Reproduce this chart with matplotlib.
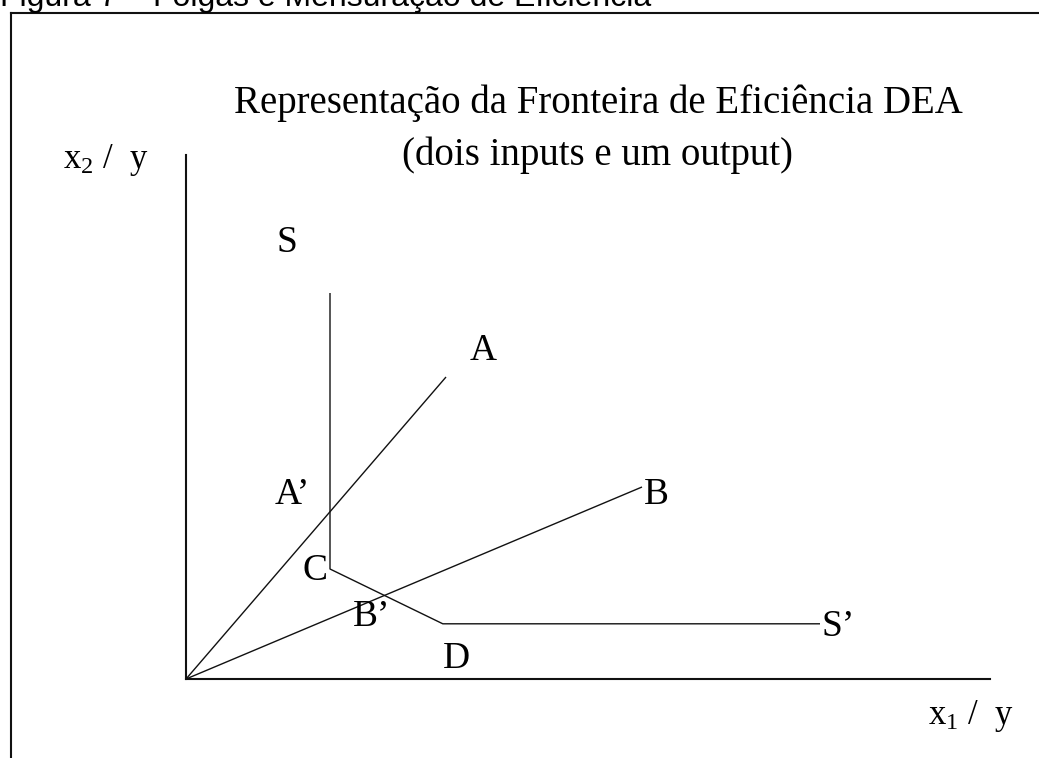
import matplotlib.pyplot as plt
from matplotlib.lines import Line2D

plt.rcParams['mathtext.fontset'] = 'custom'
plt.rcParams['mathtext.rm'] = 'Liberation Serif'

W, H = 1039, 758

# DEA frontier, two inputs per unit of output
frontier_x = [3.6, 3.6, 6.42, 15.85]   # S, C, D, S'
frontier_y = [9.65, 2.75, 1.38, 1.38]
unit_a = (6.5, 7.55)
unit_b = (11.4, 4.8)

labels = ['S', 'A', "A\u2019", 'B', 'C', "B\u2019", 'D', "S\u2019"]
label_x = [2.52, 7.42, 2.65, 11.75, 3.22, 4.65, 6.75, 16.3]
label_y = [10.9, 8.2, 4.6, 4.6, 2.7, 1.55, 0.5, 1.3]

fig = plt.figure(figsize=(W / 100, H / 100), dpi=100)

# axes placed in pixels: origin at (186, 679), top at 155, right end at 990
x0, y0, x1, y1 = 186, 679, 990, 155
ax = fig.add_axes([x0 / W, 1 - y0 / H, (x1 - x0) / W, (y0 - y1) / H])
ax.set_xlim(0, (x1 - x0) / 40)
ax.set_ylim(0, (y0 - y1) / 40)
for side in ['top', 'right']:
    ax.spines[side].set_visible(False)
for side in ['left', 'bottom']:
    ax.spines[side].set_linewidth(1.5)
    ax.spines[side].set_color('#111111')
ax.set_xticks([])
ax.set_yticks([])
ax.patch.set_alpha(0)

line_kw = dict(color='#111111', lw=1.0, solid_capstyle='butt')
ax.plot(frontier_x, frontier_y, **line_kw)
ax.plot([0, unit_a[0]], [0, unit_a[1]], **line_kw)
ax.plot([0, unit_b[0]], [0, unit_b[1]], **line_kw)

serif = 'Liberation Serif'
for lab, lx, ly in zip(labels, label_x, label_y):
    ax.text(lx, ly, lab, family=serif, fontsize=27, ha='center', va='center')

fig.text(598 / W, 1 - 103 / H, 'Representação da Fronteira de Eficiência DEA',
         family=serif, fontsize=28, ha='center', va='center')
fig.text(598 / W, 1 - 155 / H, '(dois inputs e um output)',
         family=serif, fontsize=28, ha='center', va='center')

fig.text(106 / W, 1 - 160 / H, r'x$\mathregular{_2}$ /  y',
         family=serif, fontsize=25, ha='center', va='center')
fig.text(971 / W, 1 - 716 / H, r'x$\mathregular{_1}$ /  y',
         family=serif, fontsize=25, ha='center', va='center')

# caption, partly cut off by the top edge
fig.text(0, 1 - 6 / H, 'Figura 7 – Folgas e Mensuração de Eficiência',
         family='Liberation Sans', fontsize=23, ha='left', va='baseline')

# frame around the figure body
fig.add_artist(Line2D([11 / W, 1.0], [1 - 13 / H, 1 - 13 / H],
                      transform=fig.transFigure, color='#111111', lw=1.5))
fig.add_artist(Line2D([11 / W, 11 / W], [1 - 13 / H, 0],
                      transform=fig.transFigure, color='#111111', lw=1.5))

fig.savefig('out.png', dpi=100)
